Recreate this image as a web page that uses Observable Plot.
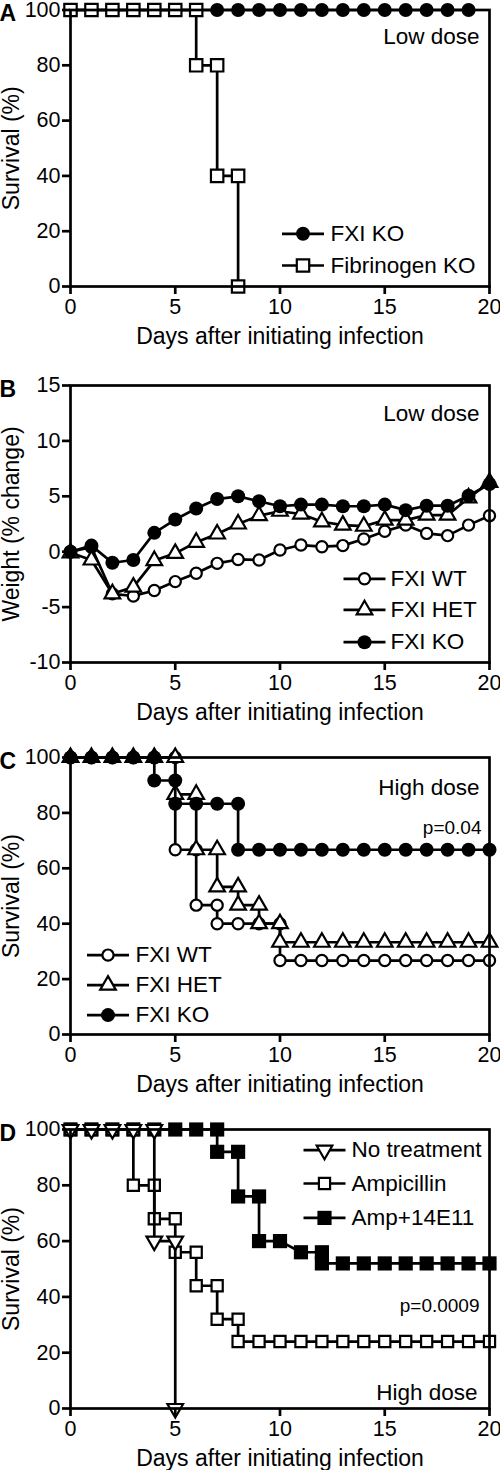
<!DOCTYPE html>
<html><head><meta charset="utf-8">
<script src="https://cdn.jsdelivr.net/npm/d3@7"></script>
<script src="https://cdn.jsdelivr.net/npm/@observablehq/plot@0.6"></script>
<style>body{margin:0;background:#fff;} svg{display:block;}</style>
</head><body><div id="chart"></div>
<script>
// ---------- DATA ----------
const xTicks = [0, 5, 10, 15, 20];
const survTicks = [0, 20, 40, 60, 80, 100];
const weightTicks = [-10, -5, 0, 5, 10, 15];
const xLabel = "Days after initiating infection";
const survLabel = "Survival (%)";
const weightLabel = "Weight (% change)";

// Panel A (Low dose survival)
const aKODays  = [0,1,2,3,4,5,6,7,8,9,10,11,12,13,14,15,16,17,18,19];
const aKOSurv  = [100,100,100,100,100,100,100,100,100,100,100,100,100,100,100,100,100,100,100,100];
const aFibDays = [0,1,2,3,4,5,6,6,7,7,8,8];
const aFibSurv = [100,100,100,100,100,100,100,80,80,40,40,0];

// Panel B (Low dose weight)
const bDays = [0,1,2,3,4,5,6,7,8,9,10,11,12,13,14,15,16,17,18,19,20];
const bWT  = [0,0.4,-3.8,-4.0,-3.5,-2.7,-1.95,-1.05,-0.7,-0.75,0.15,0.6,0.45,0.55,1.15,1.85,2.4,1.65,1.45,2.4,3.25];
const bHET = [-0.1,-0.75,-3.8,-3.2,-0.8,-0.15,0.85,1.6,2.5,3.25,3.65,3.4,2.7,2.4,2.3,2.85,2.85,3.3,3.3,4.85,6.25];
const bKO  = [0,0.55,-1.0,-0.75,1.7,2.9,3.9,4.75,5.0,4.55,4.1,4.25,4.25,4.1,4.1,4.25,3.75,4.15,4.15,5.05,6.1];

// Panel C (High dose survival)
const cWTDays  = [0,1,2,3,4,5,5,6,6,7,7,8,9,10,10,11,12,13,14,15,16,17,18,19,20];
const cWTSurv  = [100,100,100,100,100,100,66.7,66.7,46.7,46.7,40,40,40,40,26.7,26.7,26.7,26.7,26.7,26.7,26.7,26.7,26.7,26.7,26.7];
const cHETDays = [0,1,2,3,4,5,5,6,6,7,7,8,8,9,9,10,10,11,12,13,14,15,16,17,18,19,20];
const cHETSurv = [100,100,100,100,100,100,86.7,86.7,66.7,66.7,53.3,53.3,46.7,46.7,40,40,33.3,33.3,33.3,33.3,33.3,33.3,33.3,33.3,33.3,33.3,33.3];
const cKODays  = [0,1,2,3,4,4,5,5,6,7,8,8,9,10,11,12,13,14,15,16,17,18,19,20];
const cKOSurv  = [100,100,100,100,100,91.7,91.7,83.3,83.3,83.3,83.3,66.7,66.7,66.7,66.7,66.7,66.7,66.7,66.7,66.7,66.7,66.7,66.7,66.7];

// Panel D (High dose, treatments)
const dNoDays  = [0,1,2,3,4,4,5,5];
const dNoSurv  = [100,100,100,100,100,60,60,0];
const dAmpDays = [0,1,2,3,3,4,4,5,5,6,6,7,7,8,8,9,10,11,12,13,14,15,16,17,18,19,20];
const dAmpSurv = [100,100,100,100,80,80,68,68,56,56,44,44,32,32,24,24,24,24,24,24,24,24,24,24,24,24,24];
const dAbDays  = [0,1,2,3,4,5,6,7,7,8,8,9,9,10,11,12,12,13,14,15,16,17,18,19,20];
const dAbSurv  = [100,100,100,100,100,100,100,100,92,92,76,76,60,60,56,56,52,52,52,52,52,52,52,52,52];

// ---------- STYLES ----------
const FONT = "'Liberation Sans', Arial, Helvetica, sans-serif";
const SW = 2.7;
const triangleDown = {
  draw(ctx, size) {
    const y = Math.sqrt(size / (Math.sqrt(3) * 3));
    ctx.moveTo(0, 2 * y);
    ctx.lineTo(-Math.sqrt(3) * y, -y);
    ctx.lineTo(Math.sqrt(3) * y, -y);
    ctx.closePath();
  }
};
const dash = { draw(ctx) { ctx.moveTo(-21, 0); ctx.lineTo(21, 0); } };
const M = {
  filledCircle: {symbol: "circle", fill: "black", stroke: "none", r: 7},
  openCircle: {symbol: "circle", fill: "white", stroke: "black", strokeWidth: 2.2, r: 5.6},
  openTriangle: {symbol: "triangle", fill: "white", stroke: "black", strokeWidth: 2.2, r: 5.8},
  openSquare: {symbol: "square", fill: "white", stroke: "black", strokeWidth: 2.2, r: 7},
  openSquareSm: {symbol: "square", fill: "white", stroke: "black", strokeWidth: 2.2, r: 6.3},
  filledSquare: {symbol: "square", fill: "black", stroke: "none", r: 8},
  openTriangleDown: {symbol: triangleDown, fill: "white", stroke: "black", strokeWidth: 2.2, r: 5.8}
};

function table(days, vals) { return days.map((d, i) => ({day: d, v: vals[i]})); }

function txt(str, o) {
  return Plot.text([str], {text: d => d, lineAnchor: "middle", ...o});
}

function panel(cfg) {
  const marks = [];
  for (const s of cfg.series) {
    const data = table(s.days, s.vals);
    marks.push(Plot.line(data, {x: "day", y: "v", stroke: "black", strokeWidth: SW}));
    marks.push(Plot.dot(data, {x: "day", y: "v", ...M[s.marker]}));
  }
  marks.push(Plot.frame({stroke: "black", strokeWidth: SW}));
  marks.push(Plot.axisX({ticks: xTicks, tickSize: 8, tickPadding: 4, fontSize: 21.5, strokeWidth: SW, label: null, tickFormat: d => String(d)}));
  marks.push(Plot.axisY({ticks: cfg.yTicks, tickSize: 8, tickPadding: 2, fontSize: 21.5, strokeWidth: SW, label: null, tickFormat: d => String(d)}));
  marks.push(txt(xLabel, {frameAnchor: "bottom", textAnchor: "middle", dy: 50, fontSize: 23}));
  marks.push(txt(cfg.yLabel, {frameAnchor: "left", textAnchor: "middle", rotate: -90, dx: -59, fontSize: 23}));
  marks.push(txt(cfg.letter, {frameAnchor: "top-left", textAnchor: "start", dx: -71, dy: 4, fontWeight: "bold", fontSize: 23}));
  // legend
  const L = cfg.legend;
  L.items.forEach((it, i) => {
    const s = cfg.series.find(q => q.name === it);
    marks.push(Plot.dot([it], {frameAnchor: "top-left", dx: L.lineDx, dy: L.dys[i], symbol: dash, r: 1, stroke: "black", strokeWidth: SW, fill: "none"}));
    marks.push(Plot.dot([it], {frameAnchor: "top-left", dx: L.lineDx, dy: L.dys[i], ...M[s.marker]}));
    marks.push(txt(it, {frameAnchor: "top-left", textAnchor: "start", dx: L.textDx, dy: L.dys[i], fontSize: 22.5}));
  });
  for (const a of cfg.notes) {
    marks.push(txt(a.text, {frameAnchor: a.anchor, textAnchor: "end", dx: a.dx, dy: a.dy, fontSize: a.size}));
  }
  return Plot.plot({
    width: 500, height: cfg.height,
    marginLeft: 70, marginRight: 11, marginTop: cfg.mt, marginBottom: cfg.mb,
    x: {domain: [0, 20]},
    y: {domain: cfg.yDomain},
    style: {fontFamily: FONT, color: "black", background: "white", overflow: "visible"},
    marks
  });
}

const root = document.getElementById("chart");

root.append(panel({
  letter: "A", height: 370, mt: 9.5, mb: 84, yDomain: [0, 100], yTicks: survTicks, yLabel: survLabel,
  series: [
    {name: "FXI KO", days: aKODays, vals: aKOSurv, marker: "filledCircle"},
    {name: "Fibrinogen KO", days: aFibDays, vals: aFibSurv, marker: "openSquare"}
  ],
  legend: {items: ["FXI KO", "Fibrinogen KO"], lineDx: 232.5, textDx: 260, dys: [223.8, 255.5]},
  notes: [{text: "Low dose", anchor: "top-right", dx: -10, dy: 27.2, size: 22.5}]
}));

root.append(panel({
  letter: "B", height: 372, mt: 15, mb: 80, yDomain: [-10, 15], yTicks: weightTicks, yLabel: weightLabel,
  series: [
    {name: "FXI WT", days: bDays, vals: bWT, marker: "openCircle"},
    {name: "FXI HET", days: bDays, vals: bHET, marker: "openTriangle"},
    {name: "FXI KO", days: bDays, vals: bKO, marker: "filledCircle"}
  ],
  legend: {items: ["FXI WT", "FXI HET", "FXI KO"], lineDx: 294, textDx: 320, dys: [193.3, 224.3, 256.7]},
  notes: [{text: "Low dose", anchor: "top-right", dx: -10, dy: 28.3, size: 22.5}]
}));

root.append(panel({
  letter: "C", height: 372, mt: 15, mb: 80, yDomain: [0, 100], yTicks: survTicks, yLabel: survLabel,
  series: [
    {name: "FXI WT", days: cWTDays, vals: cWTSurv, marker: "openCircle"},
    {name: "FXI HET", days: cHETDays, vals: cHETSurv, marker: "openTriangle"},
    {name: "FXI KO", days: cKODays, vals: cKOSurv, marker: "filledCircle"}
  ],
  legend: {items: ["FXI WT", "FXI HET", "FXI KO"], lineDx: 37.5, textDx: 65, dys: [197.6, 227.6, 257.6]},
  notes: [
    {text: "High dose", anchor: "top-right", dx: -10, dy: 30, size: 22.5},
    {text: "p=0.04", anchor: "top-right", dx: -8, dy: 70, size: 19}
  ]
}));

root.append(panel({
  letter: "D", height: 356, mt: 15, mb: 62, yDomain: [0, 100], yTicks: survTicks, yLabel: survLabel,
  series: [
    {name: "Amp+14E11", days: dAbDays, vals: dAbSurv, marker: "filledSquare"},
    {name: "Ampicillin", days: dAmpDays, vals: dAmpSurv, marker: "openSquareSm"},
    {name: "No treatment", days: dNoDays, vals: dNoSurv, marker: "openTriangleDown"}
  ],
  legend: {items: ["No treatment", "Ampicillin", "Amp+14E11"], lineDx: 254, textDx: 281, dys: [20.7, 54, 88.4]},
  notes: [
    {text: "p=0.0009", anchor: "top-right", dx: -10, dy: 176.7, size: 19},
    {text: "High dose", anchor: "bottom-right", dx: -12, dy: -16, size: 22.5}
  ]
}));
</script></body></html>
